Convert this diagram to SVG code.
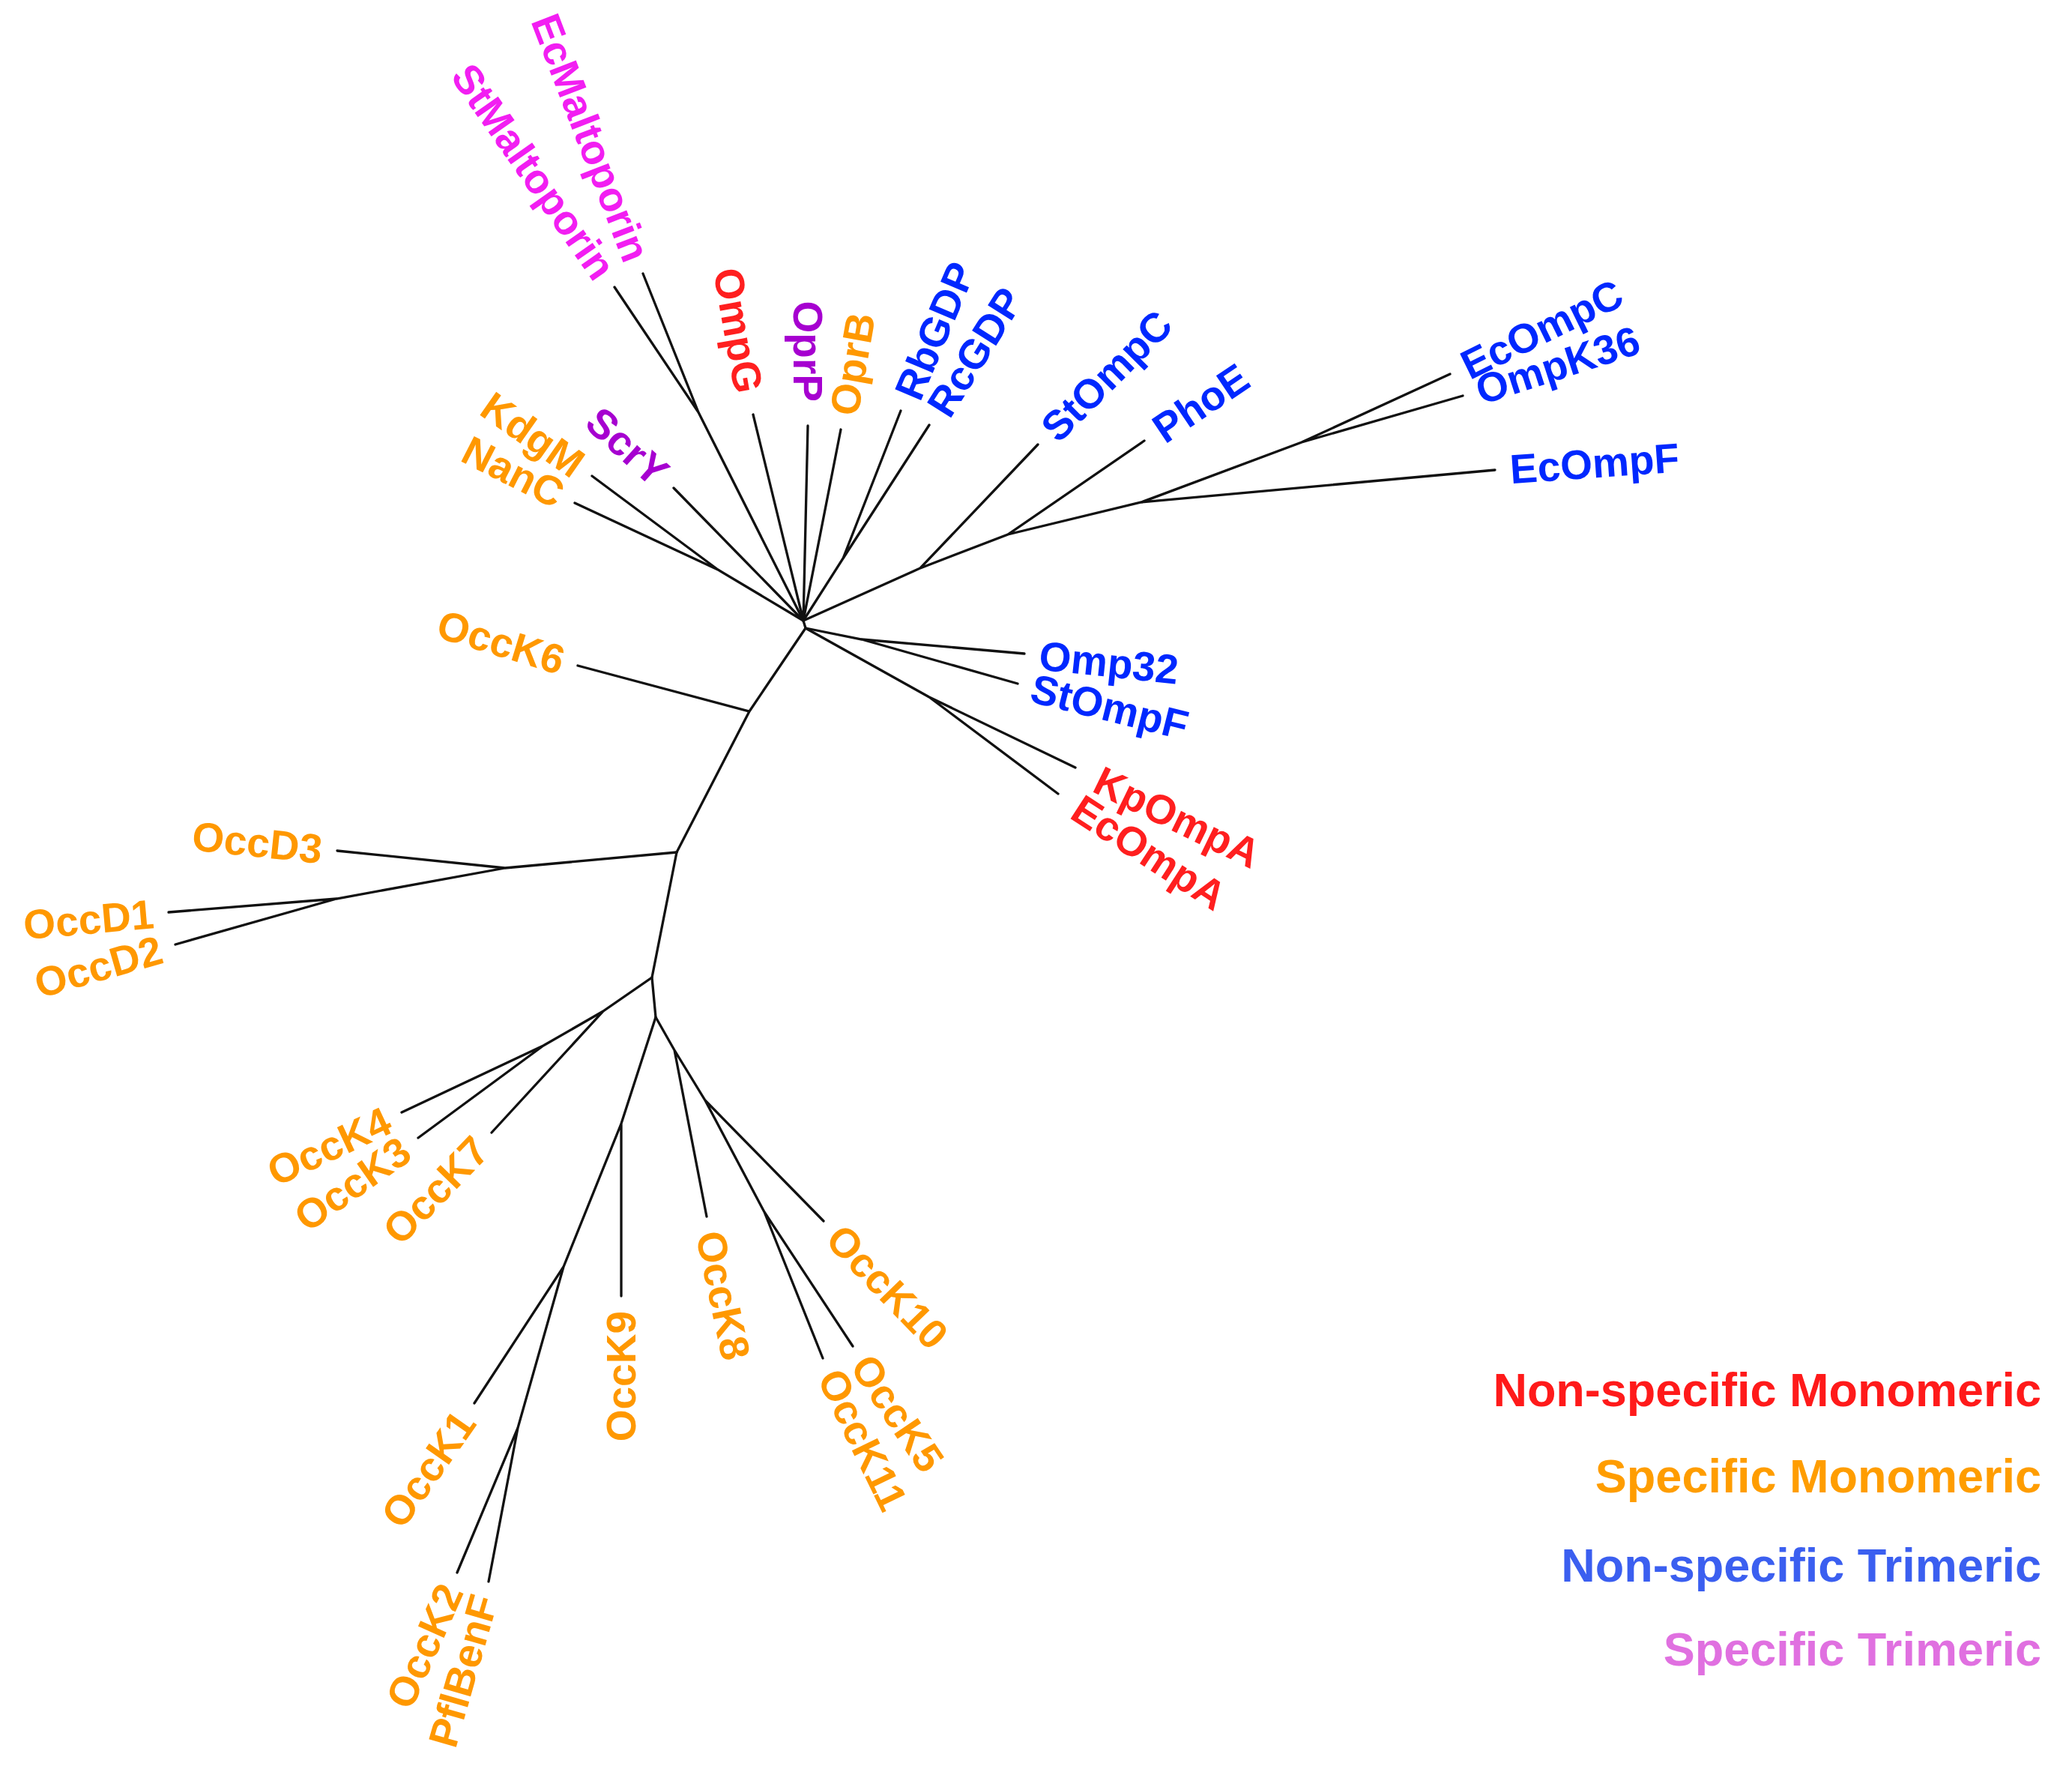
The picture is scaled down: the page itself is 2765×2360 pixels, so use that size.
<svg xmlns="http://www.w3.org/2000/svg" width="2765" height="2360" viewBox="0 0 2765 2360">
<style>
  .br { fill: none; stroke: #111; stroke-width: 3.3; stroke-linecap: round; }
  text { font-family: "Liberation Sans", Arial, sans-serif; font-weight: bold; }
  .lb { font-size: 55px; }
  .s { text-anchor: start; }
  .e { text-anchor: end; }
  .blue { fill: #0028ff; }
  .red { fill: #ff1f1f; }
  .org { fill: #ff9800; }
  .mag { fill: #f21ef2; }
  .pur { fill: #a600d0; }
  .lg { font-size: 63px; text-anchor: end; }
</style>
<rect width="2765" height="2360" fill="#ffffff"/>
<g id="connectors">
  <path class="br" d="M1072,828 L932,550 M932,550 L820,383 M932,550 L858,365"/>
  <path class="br" d="M1072,828 L1005,553 M1072,828 L1078,568 M1072,828 L1122,573"/>
  <path class="br" d="M1072,828 L1125,745 L1202,548 M1125,745 L1240,567"/>
  <path class="br" d="M1072,828 L958,760 L790,635 M958,760 L767,671 M1072,828 L899,651"/>
  <path class="br" d="M1072,828 L1228,758 L1385,593 M1228,758 L1345,713 L1527,588 M1345,713 L1523,670 L1995,627 M1523,670 L1737,590 L1935,499 M1737,590 L1952,528"/>
  <path class="br" d="M1072,828 L1075,838"/>
  <path class="br" d="M1075,838 L1150,853 L1367,872 M1150,853 L1358,912"/>
  <path class="br" d="M1075,838 L1240,930 L1435,1024 M1240,930 L1412,1059"/>
  <path class="br" d="M1075,838 L1000,949 L771,888 M1000,949 L903,1137"/>
  <path class="br" d="M903,1137 L674,1158 L450,1135 M674,1158 L449,1199 L225,1217 M449,1199 L234,1260"/>
  <path class="br" d="M903,1137 L870,1304 L805,1349 L656,1511 M805,1349 L725,1395 L536,1484 M725,1395 L558,1518"/>
  <path class="br" d="M870,1304 L875,1357 L829,1499 L829,1729 M829,1499 L752,1690 L633,1872 M752,1690 L691,1905 L610,2098 M691,1905 L652,2110"/>
  <path class="br" d="M875,1357 L900,1401 L943,1623 M900,1401 L941,1468 L1099,1629 M941,1468 L1020,1617 L1138,1796 M1020,1617 L1098,1812"/>
</g>
<g id="n-StMaltoporin"><text class="lb e mag" transform="translate(808.5,366.6) rotate(55)" dy="0.35em">StMaltoporin</text></g>
<g id="n-EcMaltoporin"><text class="lb e mag" transform="translate(850.8,346.3) rotate(69)" dy="0.35em">EcMaltoporin</text></g>
<g id="n-OmpG"><text class="lb e red" transform="translate(999.8,523.5) rotate(80)" dy="0.35em">OmpG</text></g>
<g id="n-OprP"><text class="lb e pur" transform="translate(1078,536) rotate(90)" dy="0.35em">OprP</text></g>
<g id="n-OprB"><text class="lb s org" transform="translate(1125.5,553.3) rotate(-80)" dy="0.35em">OprB</text></g>
<g id="n-RbGDP"><text class="lb s blue" transform="translate(1210,530) rotate(-67)" dy="0.35em">RbGDP</text></g>
<g id="n-RcGDP"><text class="lb s blue" transform="translate(1251,550) rotate(-58)" dy="0.35em">RcGDP</text></g>
<g id="n-StOmpC"><text class="lb s blue" transform="translate(1399,579) rotate(-45)" dy="0.35em">StOmpC</text></g>
<g id="n-PhoE"><text class="lb s blue" transform="translate(1544,577) rotate(-34)" dy="0.35em">PhoE</text></g>
<g id="n-EcOmpC"><text class="lb s blue" transform="translate(1953,490) rotate(-26)" dy="0.35em">EcOmpC</text></g>
<g id="n-OmpK36"><text class="lb s blue" transform="translate(1971,522) rotate(-18)" dy="0.35em">OmpK36</text></g>
<g id="n-EcOmpF"><text class="lb s blue" transform="translate(2015,626) rotate(-4)" dy="0.35em">EcOmpF</text></g>
<g id="n-Omp32"><text class="lb s blue" transform="translate(1387,874) rotate(6)" dy="0.35em">Omp32</text></g>
<g id="n-StOmpF"><text class="lb s blue" transform="translate(1377,917) rotate(14)" dy="0.35em">StOmpF</text></g>
<g id="n-KpOmpA"><text class="lb s red" transform="translate(1464,1038) rotate(26)" dy="0.35em">KpOmpA</text></g>
<g id="n-EcOmpA"><text class="lb s red" transform="translate(1436,1074) rotate(33)" dy="0.35em">EcOmpA</text></g>
<g id="n-ScrY"><text class="lb e pur" transform="translate(884,637.6) rotate(42)" dy="0.35em">ScrY</text></g>
<g id="n-KdgM"><text class="lb e org" transform="translate(773.6,623.5) rotate(35)" dy="0.35em">KdgM</text></g>
<g id="n-NanC"><text class="lb e org" transform="translate(749,662) rotate(27)" dy="0.35em">NanC</text></g>
<g id="n-OccK6"><text class="lb e org" transform="translate(752,882) rotate(17)" dy="0.35em">OccK6</text></g>
<g id="n-OccD3"><text class="lb e org" transform="translate(430,1133) rotate(6)" dy="0.35em">OccD3</text></g>
<g id="n-OccD1"><text class="lb e org" transform="translate(205,1219) rotate(-5)" dy="0.35em">OccD1</text></g>
<g id="n-OccD2"><text class="lb e org" transform="translate(215,1265.5) rotate(-16)" dy="0.35em">OccD2</text></g>
<g id="n-OccK4"><text class="lb e org" transform="translate(518,1492.5) rotate(-25)" dy="0.35em">OccK4</text></g>
<g id="n-OccK3"><text class="lb e org" transform="translate(541.6,1529.5) rotate(-35)" dy="0.35em">OccK3</text></g>
<g id="n-OccK7"><text class="lb e org" transform="translate(642,1525) rotate(-46)" dy="0.35em">OccK7</text></g>
<g id="n-OccK9"><text class="lb e org" transform="translate(829,1749) rotate(-90)" dy="0.35em">OccK9</text></g>
<g id="n-OccK1"><text class="lb e org" transform="translate(621.5,1888.4) rotate(-55)" dy="0.35em">OccK1</text></g>
<g id="n-OccK2"><text class="lb e org" transform="translate(601.9,2116.3) rotate(-66)" dy="0.35em">OccK2</text></g>
<g id="n-PflBenF"><text class="lb e org" transform="translate(646.5,2129.2) rotate(-74)" dy="0.35em">PflBenF</text></g>
<g id="n-OccK8"><text class="lb s org" transform="translate(947,1643) rotate(78)" dy="0.35em">OccK8</text></g>
<g id="n-OccK10"><text class="lb s org" transform="translate(1113,1643) rotate(46)" dy="0.35em">OccK10</text></g>
<g id="n-OccK5"><text class="lb s org" transform="translate(1149,1813) rotate(56)" dy="0.35em">OccK5</text></g>
<g id="n-OccK11"><text class="lb s org" transform="translate(1107,1830) rotate(64)" dy="0.35em">OccK11</text></g>
<g id="legend">
  <text class="lg" x="2724" y="1876" fill="#ff1a1a">Non-specific Monomeric</text>
  <text class="lg" x="2724" y="1991" fill="#ff9d00">Specific Monomeric</text>
  <text class="lg" x="2724" y="2110" fill="#3b5ff0">Non-specific Trimeric</text>
  <text class="lg" x="2724" y="2222" fill="#e070e0">Specific Trimeric</text>
</g>
</svg>
